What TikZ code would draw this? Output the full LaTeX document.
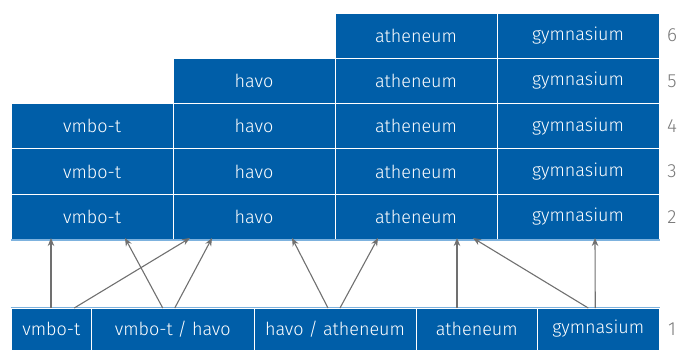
\documentclass[tikz,border=0pt]{standalone}
\usepackage{fontspec}
\setmainfont{Fira Sans Light}
\usetikzlibrary{arrows.meta}
\definecolor{cellblue}{RGB}{0,94,168}
\definecolor{edgeblue}{RGB}{125,178,222}
\definecolor{arrgray}{RGB}{112,112,112}
\definecolor{numgray}{RGB}{120,120,120}
\tikzset{
  cell/.style={fill=cellblue, draw=white, line width=1pt, minimum width=162pt, minimum height=45.3pt, inner sep=0pt, text=white, font=\fontsize{18}{20}\selectfont},
  bcell/.style={fill=cellblue, draw=white, line width=1pt, minimum height=42pt, inner sep=0pt, text=white, font=\fontsize{18}{20}\selectfont},
  yearlbl/.style={text=numgray, font=\fontsize{19}{21}\selectfont, inner sep=0pt},
  link/.style={draw=arrgray, line width=1.1pt, -{Stealth[length=8pt,width=6.5pt]}}
}
\begin{document}
\begin{tikzpicture}[x=1pt,y=-1pt]
\useasboundingbox (0,0) rectangle (677,349);
% upper grid
\node[cell] (u63) at (416,35.65) {atheneum};
\node[cell] (u64) at (578,35.65) {gymnasium};
\node[cell] (u52) at (254,80.95) {havo};
\node[cell] (u53) at (416,80.95) {atheneum};
\node[cell] (u54) at (578,80.95) {gymnasium};
\node[cell] (u41) at (92,126.25) {vmbo-t};
\node[cell] (u42) at (254,126.25) {havo};
\node[cell] (u43) at (416,126.25) {atheneum};
\node[cell] (u44) at (578,126.25) {gymnasium};
\node[cell] (u31) at (92,171.55) {vmbo-t};
\node[cell] (u32) at (254,171.55) {havo};
\node[cell] (u33) at (416,171.55) {atheneum};
\node[cell] (u34) at (578,171.55) {gymnasium};
\node[cell] (u21) at (92,216.85) {vmbo-t};
\node[cell] (u22) at (254,216.85) {havo};
\node[cell] (u23) at (416,216.85) {atheneum};
\node[cell] (u24) at (578,216.85) {gymnasium};
\draw[edgeblue, line width=2pt] (u21.south west) -- (u24.south east);
% bottom row
\node[bcell, minimum width=80.5pt] (b1) at (51.25,329) {vmbo-t};
\node[bcell, minimum width=162.5pt] (b2) at (172.75,329) {vmbo-t / havo};
\node[bcell, minimum width=162pt] (b3) at (335,329) {havo / atheneum};
\node[bcell, minimum width=121.5pt] (b4) at (476.75,329) {atheneum};
\node[bcell, minimum width=121.5pt] (b5) at (598.25,329) {gymnasium};
\draw[edgeblue, line width=1pt] (b1.north west) -- (b5.north east);
% year labels
\node[yearlbl] (y6) at (672,35.65) {6};
\node[yearlbl] (y5) at (672,80.95) {5};
\node[yearlbl] (y4) at (672,126.25) {4};
\node[yearlbl] (y3) at (672,171.55) {3};
\node[yearlbl] (y2) at (672,216.85) {2};
\node[yearlbl] (y1) at (672,329) {1};
% connectors
\path[link] ([xshift=-0.25pt,yshift=-0.5pt]b1.north) -- ([xshift=-41pt,yshift=2pt]u21.south);
\path[link] ([xshift=23pt,yshift=-0.5pt]b1.north) -- ([xshift=-64pt,yshift=2pt]u22.south);
\path[link] ([xshift=-10pt,yshift=-0.5pt]b2.north) -- ([xshift=33pt,yshift=2pt]u21.south);
\path[link] ([xshift=2pt,yshift=-0.5pt]b2.north) -- ([xshift=-42pt,yshift=2pt]u22.south);
\path[link] ([xshift=-7pt,yshift=-0.5pt]b3.north) -- ([xshift=38pt,yshift=2pt]u22.south);
\path[link] ([xshift=5pt,yshift=-0.5pt]b3.north) -- ([xshift=-38pt,yshift=2pt]u23.south);
\path[link] ([xshift=-19.75pt,yshift=-0.5pt]b4.north) -- ([xshift=41pt,yshift=2pt]u23.south);
\path[link] ([xshift=-10pt,yshift=-0.5pt]b5.north) -- ([xshift=57pt,yshift=2pt]u23.south);
\path[link] ([xshift=-3pt,yshift=-0.5pt]b5.north) -- ([xshift=17pt,yshift=2pt]u24.south);
\end{tikzpicture}
\end{document}
